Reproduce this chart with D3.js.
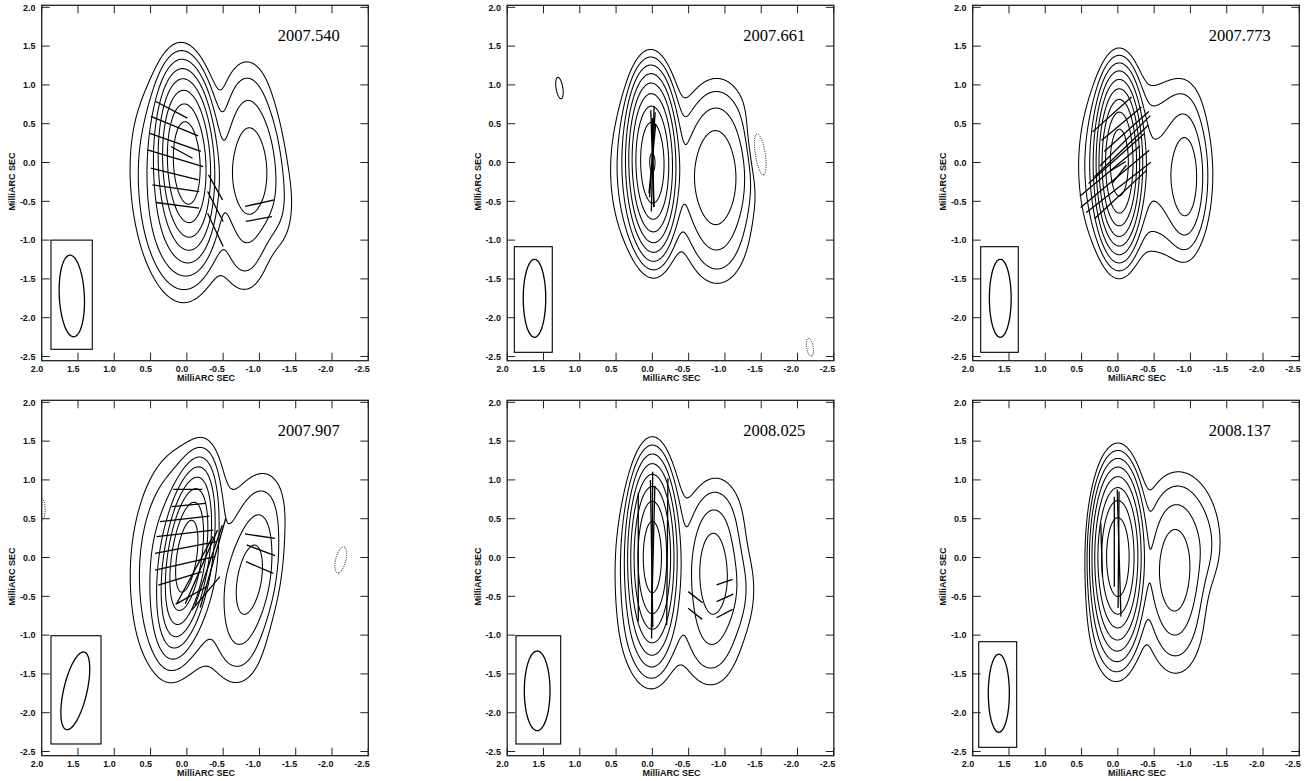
<!DOCTYPE html>
<html><head><meta charset="utf-8">
<script src="https://cdn.jsdelivr.net/npm/d3@7"></script>
<style>body{margin:0;background:#fff}svg{display:block}</style>
</head><body>
<svg id="c" width="1315" height="781"></svg>
<script>
// ---------------- data ----------------
const epochs = ["2007.540", "2007.661", "2007.773", "2007.907", "2008.025", "2008.137"];
const xTickValues = [2.0, 1.5, 1.0, 0.5, 0.0, -0.5, -1.0, -1.5, -2.0, -2.5];
const yTickValues = [2.0, 1.5, 1.0, 0.5, 0.0, -0.5, -1.0, -1.5, -2.0, -2.5];
const axisTitle = "MilliARC SEC";
// contour levels in units of the lowest contour (doubling)
const contourLevels = [1, 2, 4, 8, 16, 32, 64, 128, 256];
const negativeLevels = [1];

// Gaussian components [RA offset mas, Dec offset mas, peak, FWHM major, FWHM minor, PA deg]
const gauss_2007_540 = [
  [0.0, 0.0, 240, 1.08, 0.37, 3],
  [0.12, -0.25, 8, 1.6, 0.75, 5],
  [0.22, -0.95, 3, 1.0, 0.45, 10],
  [-0.87, -0.12, 14, 1.1, 0.5, 0],
  [-0.82, 0.8, 2, 0.9, 0.5, 0],
  [-0.8, -1.15, 2, 0.9, 0.5, 0],
  [-1.3, -0.6, 1.2, 0.9, 0.35, 0]
];
const gauss_2007_661 = [
  [0.0, 0.0, 260, 1.01, 0.31, 1],
  [0.05, -0.1, 6, 1.4, 0.65, 0],
  [-0.85, -0.2, 14, 1.05, 0.55, 0],
  [-0.9, 0.5, 2.5, 0.9, 0.6, 0],
  [-0.9, -1.0, 2.5, 0.9, 0.6, 0],
  [-1.12, -0.25, 1.5, 0.9, 0.4, 0],
  [1.28, 0.96, 1.2, 0.55, 0.18, 10],
  [-1.46, 0.13, -2.3, 0.68, 0.19, 10],
  [-2.17, -2.38, -1.2, 0.45, 0.18, 10]
];
const gauss_2007_773 = [
  [-0.02, 0.0, 430, 0.97, 0.28, 0],
  [0.02, -0.05, 8, 1.4, 0.6, 0],
  [-0.94, -0.21, 9, 1.0, 0.3, 0],
  [-0.87, -0.15, 5, 1.3, 0.55, 0],
  [-0.5, -0.1, 2.5, 1.4, 0.5, 0],
  [-0.85, 0.75, 0.8, 0.7, 0.5, 0]
];
const gauss_2007_907 = [
  [0.0, 0.02, 215, 1.03, 0.3, -9],
  [0.08, -0.05, 8, 1.7, 0.8, -4],
  [0.22, -0.75, 1.2, 0.9, 0.5, -9],
  [-0.87, -0.28, 11, 1.15, 0.45, -10],
  [-1.0, 0.65, 1.5, 0.9, 0.6, -10],
  [-0.7, -1.15, 1.5, 0.9, 0.6, 0],
  [-2.12, -0.03, -1.4, 0.5, 0.2, -15],
  [2.02, 0.62, -1.5, 0.4, 0.18, 0]
];
const gauss_2008_025 = [
  [0.0, 0.01, 200, 1.1, 0.3, 0],
  [0.05, -0.9, 3, 1.0, 0.5, 0],
  [0.0, -0.1, 5, 1.5, 0.65, 0],
  [-0.83, -0.18, 12, 1.0, 0.4, 0],
  [-0.9, 0.5, 2, 0.9, 0.6, 0],
  [-0.8, -1.0, 3, 1.0, 0.6, 0],
  [-1.15, -0.4, 2, 0.9, 0.45, 0]
];
const gauss_2008_137 = [
  [0.0, 0.01, 245, 1.04, 0.32, 0],
  [0.05, -0.8, 4, 1.0, 0.45, 0],
  [-0.775, -0.18, 13, 1.0, 0.45, 0],
  [-0.85, 0.55, 2.5, 0.9, 0.7, 0],
  [-0.8, -0.95, 2, 1.0, 0.6, 0],
  [-1.2, 0.1, 1.5, 0.8, 0.4, 0]
];

// polarization vectors [RA mas, Dec mas, length mas, EVPA deg]
const evpa_2007_540 = [
  [0.209, 0.679, 0.486, 63.7], [0.17, 0.469, 0.698, 69.1], [0.163, 0.26, 0.75, 71.7],
  [0.071, 0.131, 0.334, 63], [0.159, 0.056, 0.797, 74.3], [0.168, -0.148, 0.674, 77.1],
  [0.152, -0.331, 0.649, 82.4], [0.129, -0.552, 0.601, 83],
  [-0.395, -0.32, 0.375, 31], [-0.393, -0.567, 0.442, 29], [-0.393, -0.868, 0.48, 26.6],
  [-1.003, -0.524, 0.409, -78], [-0.992, -0.728, 0.364, -80]
];
const evpa_2007_661 = [
  [-0.005, 0.05, 1.36, -1.6], [0.0, 0.1, 1.1, -4], [-0.01, 0.0, 1.15, 1], [0.0, 0.05, 0.9, -6],
  [0.0, 0.05, 1.25, 2]
];
const evpa_2007_773 = [
  [0.11, -0.11, 1.05, -52], [0.04, -0.21, 1.2, -52], [-0.01, -0.32, 1.1, -54], [-0.04, -0.41, 0.95, -49],
  [0.02, 0.05, 1.0, -50], [-0.05, 0.15, 1.0, -48], [-0.1, 0.28, 0.95, -47], [-0.12, 0.4, 0.8, -50],
  [-0.05, 0.5, 0.7, -52], [0.08, 0.62, 0.7, -50], [0.0, -0.05, 0.25, -60], [-0.02, -0.15, 0.3, -40]
];
const evpa_2007_907 = [
  [-0.013, 0.878, 0.4, 90], [-0.024, 0.677, 0.47, -85], [0.03, 0.498, 0.683, -84],
  [0.026, 0.311, 0.785, -84], [0.015, 0.129, 0.862, -80], [0.026, -0.075, 0.844, -78],
  [0.095, -0.269, 0.62, -74], [-0.059, -0.49, 0.484, -62], [-0.261, -0.462, 0.58, -42],
  [-0.11, -0.16, 1.0, -30], [-0.2, -0.12, 1.05, -25], [-0.3, -0.1, 1.1, -20], [-0.36, -0.07, 1.2, -17],
  [-1.007, 0.275, 0.418, 82], [-1.019, 0.093, 0.413, 70.6], [-1.002, -0.129, 0.405, 68]
];
const evpa_2008_025 = [
  [0.003, 0.03, 2.15, -0.4], [0.01, 0.05, 1.9, 1.0], [-0.01, 0.0, 1.85, -1.5],
  [-0.206, 0.075, 1.89, -0.5], [0.194, 0.004, 1.66, 0],
  [-0.593, -0.511, 0.243, 54], [-0.59, -0.726, 0.24, 53.6],
  [-0.995, -0.318, 0.232, -72], [-1.0, -0.52, 0.25, -67], [-0.995, -0.722, 0.245, -64]
];
const evpa_2008_137 = [
  [-0.017, 0.058, 1.64, 1.8], [-0.01, 0.1, 1.5, -0.5], [0.049, 0.204, 1.16, 0], [0.224, 0.097, 0.69, 2]
];

// restoring beams [RA mas, Dec mas, FWHM major, FWHM minor, PA deg]
const beam_2007_540 = [1.585, -1.72, 1.053, 0.345, 3];
const beam_2007_661 = [1.624, -1.75, 1.005, 0.31, 0];
const beam_2007_773 = [1.62, -1.75, 1.005, 0.30, 0];
const beam_2007_907 = [1.537, -1.718, 1.03, 0.32, -14];
const beam_2008_025 = [1.587, -1.718, 1.027, 0.354, 0];
const beam_2008_137 = [1.64, -1.749, 1.005, 0.29, 0];
// beam boxes [RA left, RA right, Dec top, Dec bottom]
const beamBox_2007_540 = [1.872, 1.303, -1.0, -2.407];
const beamBox_2007_661 = [1.902, 1.379, -1.085, -2.446];
const beamBox_2007_773 = [1.89, 1.372, -1.085, -2.446];
const beamBox_2007_907 = [1.872, 1.183, -1.008, -2.403];
const beamBox_2008_025 = [1.879, 1.263, -1.008, -2.403];
const beamBox_2008_137 = [1.917, 1.394, -1.085, -2.446];

const panels = [
  {epoch: epochs[0], comps: gauss_2007_540, evpa: evpa_2007_540, beam: beam_2007_540, box: beamBox_2007_540},
  {epoch: epochs[1], comps: gauss_2007_661, evpa: evpa_2007_661, beam: beam_2007_661, box: beamBox_2007_661},
  {epoch: epochs[2], comps: gauss_2007_773, evpa: evpa_2007_773, beam: beam_2007_773, box: beamBox_2007_773},
  {epoch: epochs[3], comps: gauss_2007_907, evpa: evpa_2007_907, beam: beam_2007_907, box: beamBox_2007_907},
  {epoch: epochs[4], comps: gauss_2008_025, evpa: evpa_2008_025, beam: beam_2008_025, box: beamBox_2008_025},
  {epoch: epochs[5], comps: gauss_2008_137, evpa: evpa_2008_137, beam: beam_2008_137, box: beamBox_2008_137}
];

// ---------------- drawing ----------------
const svg = d3.select("#c");
svg.append("rect").attr("width", 1315).attr("height", 781).attr("fill", "#fff");
const PW = 326.6, PH = 355.4;
const FW2S = 1 / 2.35482;
const rad = Math.PI / 180;

function fieldFn(comps) {
  const pre = comps.map(([x0, y0, a, maj, mn, pa]) => {
    const sM = maj * FW2S, sm = mn * FW2S;
    return {x0, y0, a, s: Math.sin(pa * rad), c: Math.cos(pa * rad), iM: 1 / (2 * sM * sM), im: 1 / (2 * sm * sm)};
  });
  return (x, y) => {
    let v = 0;
    for (const g of pre) {
      const dx = x - g.x0, dy = y - g.y0;
      const u = dx * g.s + dy * g.c, w = dx * g.c - dy * g.s;
      const e = u * u * g.iM + w * w * g.im;
      if (e < 30) v += g.a * Math.exp(-e);
    }
    return v;
  };
}

panels.forEach((p, k) => {
  const col = k % 3, row = Math.floor(k / 3);
  const L = 41.7 + col * 465.5;
  const T = row === 0 ? 5.3 : 400.3;
  const xs = d3.scaleLinear().domain([2.0, -2.5]).range([L, L + PW]);
  const ys = d3.scaleLinear().domain([2.026, -2.554]).range([T, T + PH]);
  const g = svg.append("g");
  const clipId = "clip" + k;
  g.append("clipPath").attr("id", clipId).append("rect")
    .attr("x", L).attr("y", T).attr("width", PW).attr("height", PH);
  const plot = g.append("g").attr("clip-path", `url(#${clipId})`);

  // field grid
  const res = 0.5;
  const nx = Math.ceil(PW / res), ny = Math.ceil(PH / res);
  const f = fieldFn(p.comps);
  const vals = new Float64Array(nx * ny);
  for (let j = 0; j < ny; j++) {
    const yv = ys.invert(T + (j + 0.5) * res);
    for (let i = 0; i < nx; i++) {
      vals[j * nx + i] = f(xs.invert(L + (i + 0.5) * res), yv);
    }
  }
  const proj = d3.geoIdentity().scale(res).translate([L, T]);
  const path = d3.geoPath(proj);
  const pos = d3.contours().size([nx, ny]).thresholds(contourLevels)(vals);
  plot.selectAll("path.pos").data(pos).join("path").attr("class", "pos")
    .attr("d", path).attr("fill", "none").attr("stroke", "#000").attr("stroke-width", 1.05);
  const negVals = vals.map(v => -v);
  const neg = d3.contours().size([nx, ny]).thresholds(negativeLevels)(negVals);
  plot.selectAll("path.neg").data(neg).join("path").attr("class", "neg")
    .attr("d", path).attr("fill", "none").attr("stroke", "#000").attr("stroke-width", 1)
    .attr("stroke-dasharray", "1,1.3");

  // polarization vectors
  plot.selectAll("line.ev").data(p.evpa).join("line").attr("class", "ev")
    .attr("x1", d => xs(d[0] + d[2] / 2 * Math.sin(d[3] * rad)))
    .attr("y1", d => ys(d[1] + d[2] / 2 * Math.cos(d[3] * rad)))
    .attr("x2", d => xs(d[0] - d[2] / 2 * Math.sin(d[3] * rad)))
    .attr("y2", d => ys(d[1] - d[2] / 2 * Math.cos(d[3] * rad)))
    .attr("stroke", "#000").attr("stroke-width", 1.3);

  // beam box + ellipse
  const b = p.box;
  plot.append("rect").attr("x", xs(b[0])).attr("y", ys(b[2]))
    .attr("width", xs(b[1]) - xs(b[0])).attr("height", ys(b[3]) - ys(b[2]))
    .attr("fill", "none").attr("stroke", "#000").attr("stroke-width", 1.1);
  const [bx, by, bM, bm, bpa] = p.beam;
  const ts = d3.range(0, 361, 4);
  const sp = Math.sin(bpa * rad), cp = Math.cos(bpa * rad);
  const pts = ts.map(t => {
    const a = bM / 2 * Math.cos(t * rad), c = bm / 2 * Math.sin(t * rad);
    return [xs(bx + a * sp + c * cp), ys(by + a * cp - c * sp)];
  });
  plot.append("path").attr("d", d3.line().curve(d3.curveCardinalClosed)(pts.slice(0, -1)))
    .attr("fill", "none").attr("stroke", "#000").attr("stroke-width", 1.3);

  // frame
  g.append("rect").attr("x", L).attr("y", T).attr("width", PW).attr("height", PH)
    .attr("fill", "none").attr("stroke", "#222").attr("stroke-width", 1.3);
  // ticks
  const tk = 8;
  xTickValues.forEach(v => {
    const x = xs(v);
    g.append("line").attr("x1", x).attr("x2", x).attr("y1", T + PH).attr("y2", T + PH - tk)
      .attr("stroke", "#222").attr("stroke-width", 1);
    g.append("line").attr("x1", x).attr("x2", x).attr("y1", T).attr("y2", T + tk)
      .attr("stroke", "#222").attr("stroke-width", 1);
    g.append("text").attr("x", x + 1.5).attr("y", T + PH + 11.6).attr("text-anchor", "end")
      .attr("font-family", "Liberation Sans, Arial, sans-serif").attr("font-weight", "bold")
      .attr("font-size", 9).attr("fill", "#111").text(v.toFixed(1));
  });
  yTickValues.forEach(v => {
    const y = ys(v);
    g.append("line").attr("x1", L).attr("x2", L + tk).attr("y1", y).attr("y2", y)
      .attr("stroke", "#222").attr("stroke-width", 1);
    g.append("line").attr("x1", L + PW).attr("x2", L + PW - tk).attr("y1", y).attr("y2", y)
      .attr("stroke", "#222").attr("stroke-width", 1);
    g.append("text").attr("x", L - 6.3).attr("y", y + 3.3).attr("text-anchor", "end")
      .attr("font-family", "Liberation Sans, Arial, sans-serif").attr("font-weight", "bold")
      .attr("font-size", 9).attr("fill", "#111").text(v.toFixed(1));
  });
  g.append("text").attr("x", L + PW / 2 + 1).attr("y", T + PH + 20.3).attr("text-anchor", "middle")
    .attr("font-family", "Liberation Sans, Arial, sans-serif").attr("font-weight", "bold")
    .attr("font-size", 9).attr("fill", "#111").text(axisTitle);
  g.append("text").attr("transform", `translate(${L - 26.7},${T + PH / 2 - 1.5}) rotate(-90)`)
    .attr("text-anchor", "middle")
    .attr("font-family", "Liberation Sans, Arial, sans-serif").attr("font-weight", "bold")
    .attr("font-size", 9).attr("fill", "#111").text(axisTitle);
  g.append("text").attr("x", L + 267).attr("y", T + 36).attr("text-anchor", "middle")
    .attr("font-family", "Liberation Serif, Times New Roman, serif")
    .attr("font-size", 16.5).attr("fill", "#000").text(p.epoch);
});
</script>
</body></html>
